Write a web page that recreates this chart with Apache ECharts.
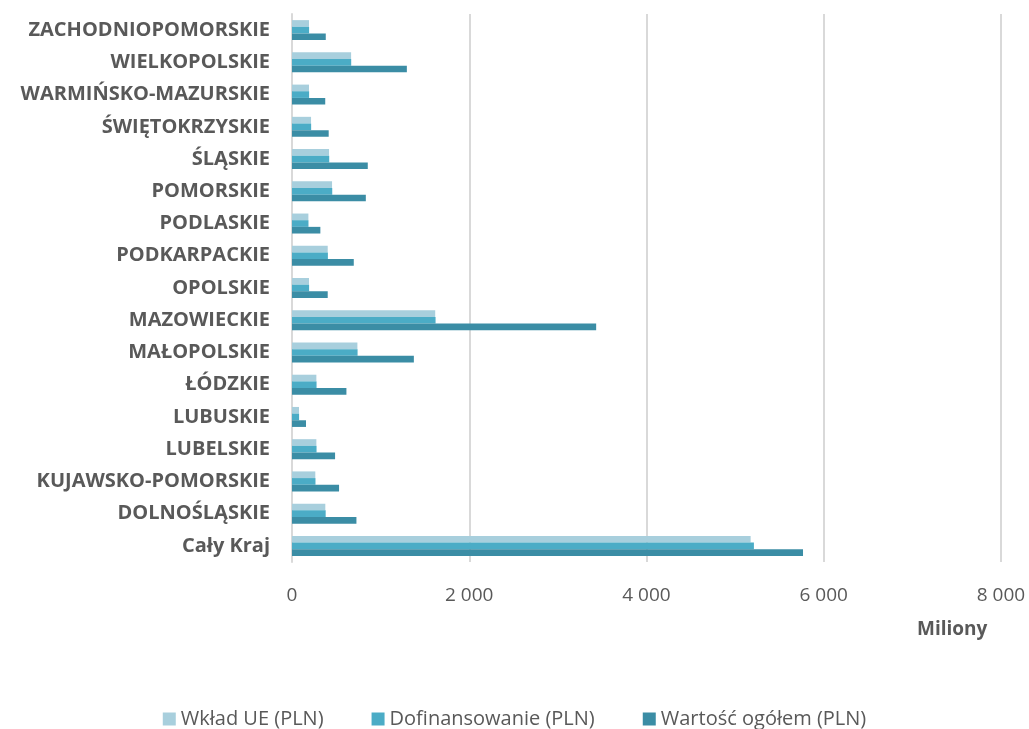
<!DOCTYPE html>
<html>
<head>
<meta charset="utf-8">
<script src="https://cdn.jsdelivr.net/npm/echarts@6/dist/echarts.min.js"></script>
<style>
 body{ margin:0; background:#fff; }
 #chart{ width:1029px; height:729px; }
</style>
</head>
<body>
<div id="chart"></div>
<script type="text/javascript">
	// kategorie od dołu do góry
	var regiony = ['Cały Kraj','DOLNOŚLĄSKIE','KUJAWSKO-POMORSKIE','LUBELSKIE','LUBUSKIE','ŁÓDZKIE',
		'MAŁOPOLSKIE','MAZOWIECKIE','OPOLSKIE','PODKARPACKIE','PODLASKIE','POMORSKIE',
		'ŚLĄSKIE','ŚWIĘTOKRZYSKIE','WARMIŃSKO-MAZURSKIE','WIELKOPOLSKIE','ZACHODNIOPOMORSKIE'];
	var wkladUE = [5175, 376, 263, 275, 79, 275, 738, 1616, 192, 403, 185, 452, 418, 215, 192, 667, 192];
	var dofinansowanie = [5212, 380, 265, 277, 80, 277, 740, 1620, 193, 405, 186, 454, 420, 216, 193, 668, 193];
	var wartosc = [5766, 727, 531, 486, 158, 614, 1375, 3432, 403, 697, 320, 833, 855, 414, 375, 1296, 381];
	var ticks = [0, 2000, 4000, 6000, 8000];

	var font = '"Open Sans", "DejaVu Sans", sans-serif';

	var options = {
		animation: false,
		textStyle: { fontFamily: font },
		color: ['#A8CFDD', '#4BACC6', '#3B8DA5'],
		grid: { left: 292, right: 28, top: 14, bottom: 167, containLabel: false },
		legend: {
			top: 704,
			left: 'center',
			icon: 'rect',
			itemWidth: 13,
			itemHeight: 13,
			itemGap: 48,
			textStyle: { fontSize: 20, color: '#595959', fontFamily: font },
			data: ['Wkład UE (PLN)', 'Dofinansowanie (PLN)', 'Wartość ogółem (PLN)']
		},
		xAxis: {
			type: 'value',
			min: ticks[0],
			max: ticks[ticks.length - 1],
			interval: 2000,
			axisLine: { show: false },
			axisTick: { show: false },
			splitLine: { lineStyle: { color: '#d9d9d9', width: 2 } },
			axisLabel: {
				margin: 24,
				fontSize: 19,
				color: '#595959',
				formatter: function (v) {
					return String(v).replace(/\B(?=(\d{3})+(?!\d))/g, ' ');
				}
			}
		},
		yAxis: {
			type: 'category',
			data: regiony,
			axisLine: { show: true, lineStyle: { color: '#d9d9d9', width: 2 } },
			axisTick: { show: false },
			axisLabel: { margin: 22, fontSize: 20, fontWeight: 'bold', color: '#595959' }
		},
		graphic: [{
			type: 'text',
			left: 917,
			top: 620,
			style: { text: 'Miliony', font: 'bold 19px ' + font, fill: '#595959' }
		}],
		series: [
			{ name: 'Wkład UE (PLN)', type: 'bar', data: wkladUE, barGap: '0%', barCategoryGap: '38%' },
			{ name: 'Dofinansowanie (PLN)', type: 'bar', data: dofinansowanie, barGap: '0%', barCategoryGap: '38%' },
			{ name: 'Wartość ogółem (PLN)', type: 'bar', data: wartosc, barGap: '0%', barCategoryGap: '38%' }
		]
	};

	var myChart = echarts.init(document.getElementById('chart'));
	myChart.setOption(options);
</script>
</body>
</html>
